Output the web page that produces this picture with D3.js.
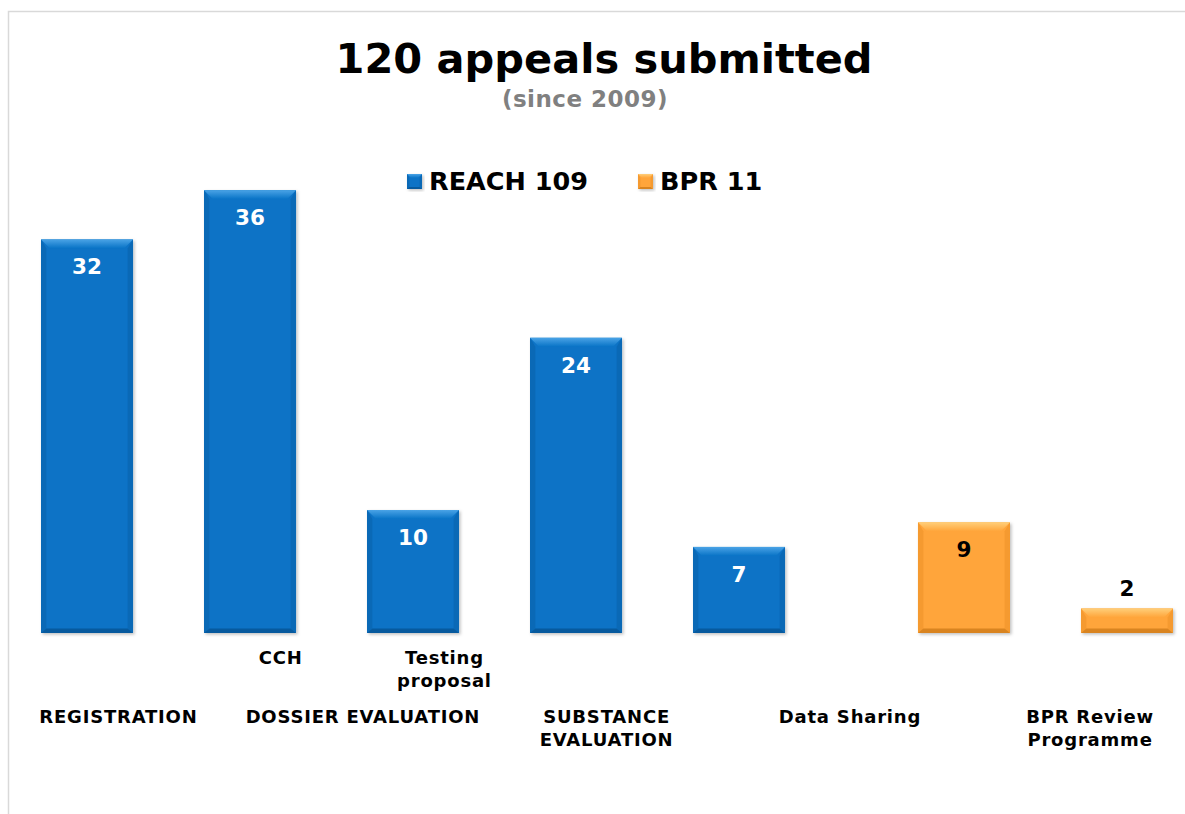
<!DOCTYPE html>
<html>
<head>
<meta charset="utf-8">
<script src="https://cdn.jsdelivr.net/npm/d3@7"></script>
<style>
  html, body { margin: 0; padding: 0; background: #fff; }
  svg text { font-family: Verdana, "DejaVu Sans", sans-serif; font-weight: bold; }
</style>
</head>
<body>
<svg id="chart"></svg>
<script>
// chart data
const categories = ["REGISTRATION", "CCH", "Testing proposal", "SUBSTANCE EVALUATION", "Data Sharing", "BPR Review Programme"];
const seriesNames = ["REACH", "BPR"];
const reachValues = [32, 36, 10, 24, 7, null];
const bprValues = [null, null, null, null, 9, 2];
const legendLabels = ["REACH 109", "BPR 11"];
const titleText = "120 appeals submitted";
const subtitleText = "(since 2009)";

// axis labels: upper row (sub categories) and lower row (groups), pos in category units
const subLabels = [
  { lines: ["CCH"], pos: 1.47 },
  { lines: ["Testing", "proposal"], pos: 2.475 }
];
const groupLabels = [
  { lines: ["REGISTRATION"], pos: 0.475 },
  { lines: ["DOSSIER EVALUATION"], pos: 1.975 },
  { lines: ["SUBSTANCE", "EVALUATION"], pos: 3.47 },
  { lines: ["Data Sharing"], pos: 4.963 },
  { lines: ["BPR Review", "Programme"], pos: 6.436 }
];

const width = 1185, height = 814;
const colors = {
  REACH: { base: "#0873c6", light: "#4aa3e6", side: "#0a69b6", dark: "#075a9e" },
  BPR:   { base: "#ffa53a", light: "#ffcf7a", side: "#f59a30", dark: "#d98420" }
};

const svg = d3.select("#chart").attr("width", width).attr("height", height);

// drop shadow + gradients
const defs = svg.append("defs");
const shadow = defs.append("filter").attr("id", "shadow")
  .attr("x", "-10%").attr("y", "-10%").attr("width", "130%").attr("height", "130%");
shadow.append("feDropShadow").attr("dx", 1.5).attr("dy", 1.5).attr("stdDeviation", 1.5)
  .attr("flood-color", "#000").attr("flood-opacity", 0.25);
seriesNames.forEach(s => {
  const g = defs.append("linearGradient").attr("id", "top-" + s)
    .attr("x1", 0).attr("y1", 0).attr("x2", 0).attr("y2", 1);
  g.append("stop").attr("offset", "0%").attr("stop-color", colors[s].light);
  g.append("stop").attr("offset", "100%").attr("stop-color", colors[s].base);
});

// outer frame
svg.append("rect")
  .attr("x", 8.5).attr("y", 11.5)
  .attr("width", width + 10).attr("height", height + 10)
  .attr("fill", "none").attr("stroke", "#d9d9d9").attr("stroke-width", 1.5);

// scales
const plotLeft = 41, plotRight = 1019;
const xCat = d3.scaleBand().domain(categories).range([plotLeft, plotRight]).padding(0);
const xSeries = d3.scaleBand().domain(seriesNames).range([0, 317]).paddingInner(0.591).paddingOuter(0);
const xPos = d3.scaleLinear().domain([0, categories.length]).range([plotLeft, plotRight]);
const y = d3.scaleLinear().domain([0, 40]).range([633, 141]);

// bevelled bar
function drawBar(g, s, x, yTop, w, h, b) {
  const c = colors[s];
  const bb = Math.min(b, h / 2);
  const gg = g.append("g");
  gg.append("rect").attr("x", x).attr("y", yTop).attr("width", w).attr("height", h)
    .attr("fill", c.base).attr("filter", "url(#shadow)");
  const poly = pts => gg.append("polygon").attr("points", pts.map(p => p.join(",")).join(" "));
  poly([[x, yTop], [x + bb * 0.6, yTop + bb], [x + bb * 0.6, yTop + h - bb * 0.5], [x, yTop + h]]).attr("fill", c.side);
  poly([[x + w, yTop], [x + w - bb * 0.6, yTop + bb], [x + w - bb * 0.6, yTop + h - bb * 0.5], [x + w, yTop + h]]).attr("fill", c.side);
  poly([[x, yTop + h], [x + bb * 0.6, yTop + h - bb * 0.5], [x + w - bb * 0.6, yTop + h - bb * 0.5], [x + w, yTop + h]]).attr("fill", c.dark);
  poly([[x, yTop], [x + w, yTop], [x + w - bb, yTop + bb], [x + bb, yTop + bb]]).attr("fill", "url(#top-" + s + ")");
}

const barData = [];
categories.forEach((cat, i) => {
  if (reachValues[i] != null) barData.push({ cat, s: "REACH", v: reachValues[i] });
  if (bprValues[i] != null) barData.push({ cat, s: "BPR", v: bprValues[i] });
});

const bars = svg.append("g");
barData.forEach(d => {
  const x = xCat(d.cat) + xSeries(d.s);
  const w = xSeries.bandwidth();
  const top = y(d.v);
  drawBar(bars, d.s, x, top, w, y(0) - top, 9);
  const inside = (y(0) - top) > 50;
  bars.append("text")
    .attr("x", x + w / 2)
    .attr("y", inside ? top + 35 : top - 12)
    .attr("text-anchor", "middle")
    .attr("font-size", 21.5)
    .attr("fill", d.s === "REACH" && inside ? "#ffffff" : "#000000")
    .text(d.v);
});

// title
svg.append("text").attr("x", 604).attr("y", 73).attr("text-anchor", "middle")
  .attr("font-size", 41.5).attr("fill", "#000").text(titleText);
svg.append("text").attr("x", 585).attr("y", 107).attr("text-anchor", "middle")
  .attr("font-size", 23).attr("fill", "#808080").attr("letter-spacing", 0.5).text(subtitleText);

// legend
const legendItems = [{ s: "REACH", x: 407, label: legendLabels[0] }, { s: "BPR", x: 638, label: legendLabels[1] }];
const legend = svg.append("g");
legendItems.forEach(it => {
  drawBar(legend, it.s, it.x, 174, 15, 15, 4);
  legend.append("text").attr("x", it.x + 22).attr("y", 190)
    .attr("font-size", 25.5).attr("fill", "#000").text(it.label);
});

// category axis labels
function drawLabels(list, baseY) {
  list.forEach(l => {
    const t = svg.append("text").attr("text-anchor", "middle").attr("font-size", 18)
      .attr("letter-spacing", 0.8).attr("fill", "#000");
    l.lines.forEach((line, j) => {
      t.append("tspan").attr("x", xPos(l.pos)).attr("y", baseY + j * 23).text(line);
    });
  });
}
drawLabels(subLabels, 664);
drawLabels(groupLabels, 723);
</script>
</body>
</html>
